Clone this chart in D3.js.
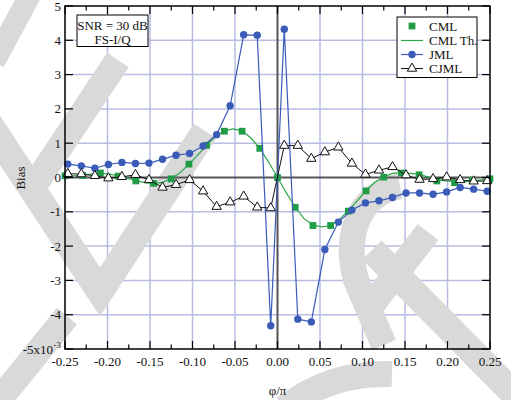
<!DOCTYPE html>
<html>
<head>
<meta charset="utf-8">
<script src="https://cdn.jsdelivr.net/npm/d3@7"></script>
<style>
  html, body { margin: 0; padding: 0; background: #fff; }
  svg { display: block; }
  text { font-family: "Liberation Serif", "DejaVu Serif", serif; fill: #111; }
</style>
</head>
<body>
<svg id="chart" width="511" height="400"></svg>
<script>
// ---------- data ----------
const xTicks = [-0.25, -0.20, -0.15, -0.10, -0.05, 0.00, 0.05, 0.10, 0.15, 0.20, 0.25];
const xTickLabels = ["-0.25", "-0.20", "-0.15", "-0.10", "-0.05", "0.00", "0.05", "0.10", "0.15", "0.20", "0.25"];
const yTicks = [-5, -4, -3, -2, -1, 0, 1, 2, 3, 4, 5];
const yTickLabels = ["-5x10", "-4", "-3", "-2", "-1", "0", "1", "2", "3", "4", "5"];

// JML / CJML sample positions: phi/pi at half-steps of 0.05 rad
const jmlX = d3.range(-16, 16).map(k => (k + 0.5) * 0.05 / Math.PI);
const jmlY = [0.39, 0.34, 0.27, 0.38, 0.44, 0.41, 0.42, 0.53, 0.65, 0.70, 0.92, 1.25, 2.09, 4.16, 4.15, -4.32,
              4.32, -4.13, -4.21, -2.10, -1.30, -0.95, -0.74, -0.68, -0.58, -0.45, -0.45, -0.49, -0.42, -0.29, -0.34, -0.40];
const cjmlY = [0.11, 0.10, 0.05, -0.02, 0.02, 0.08, -0.07, -0.29, -0.21, -0.07, -0.40, -0.85, -0.72, -0.55, -0.87, -0.89,
               0.93, 0.93, 0.55, 0.74, 0.88, 0.41, 0.09, 0.21, 0.31, 0.07, -0.06, -0.04, 0.01, -0.07, -0.11, -0.10];

// CML simulation points at k/48
const cmlX = d3.range(-12, 13).map(k => k / 48);
const cmlY = [0.05, 0.06, 0.13, 0.04, -0.10, -0.17, -0.04, 0.39, 0.94, 1.35, 1.35, 0.85, 0.00,
              -0.87, -1.40, -1.40, -0.98, -0.39, 0.01, 0.13, 0.08, -0.10, -0.15, -0.08, -0.04];

// CML theory curve at k/96
const thX = d3.range(-24, 25).map(k => k / 96);
const thY = [0.05, 0.05, 0.07, 0.10, 0.12, 0.10, 0.05, -0.02, -0.09, -0.15, -0.18, -0.14, -0.03, 0.14, 0.39, 0.66,
             0.94, 1.20, 1.36, 1.42, 1.36, 1.15, 0.85, 0.45, 0.00, -0.45, -0.86, -1.20, -1.38, -1.44, -1.40, -1.22,
             -0.97, -0.68, -0.38, -0.14, 0.02, 0.12, 0.14, 0.12, 0.09, 0.02, -0.06, -0.10, -0.12, -0.13, -0.10, -0.07, -0.03];

const legendItems = ["CML", "CML Th.", "JML", "CJML"];
const infoLines = ["SNR = 30 dB", "FS-I/Q"];

// ---------- layout ----------
const svg = d3.select("#chart");
const L = 65, R = 490, T = 6, B = 349;
const x = d3.scaleLinear().domain([-0.25, 0.25]).range([L, R]);
const y = d3.scaleLinear().domain([-5, 5]).range([B, T]);

const cGrid = "#b7bce2", cBlue = "#3a5bb8", cGreen = "#1f9c45", cGreenLine = "#2aa84a", cWM = "#d9d9d9";

// grid
const g = svg.append("g");
g.selectAll(".vg").data(xTicks.filter(t => t !== 0 && Math.abs(t) < 0.25)).join("line")
  .attr("x1", d => x(d)).attr("x2", d => x(d)).attr("y1", T).attr("y2", B)
  .attr("stroke", cGrid).attr("stroke-width", 1.5);
g.selectAll(".hg").data(yTicks.filter(t => t !== 0 && Math.abs(t) < 5)).join("line")
  .attr("y1", d => y(d)).attr("y2", d => y(d)).attr("x1", L).attr("x2", R)
  .attr("stroke", cGrid).attr("stroke-width", 1.5);

// watermark strokes (decoration)
const wm = svg.append("g").attr("fill", "none").attr("stroke", cWM).attr("stroke-linejoin", "miter").attr("stroke-linecap", "butt");
wm.append("path").attr("d", "M30,-5 L-6,62").attr("stroke-width", 22);
wm.append("path").attr("d", "M-22,107 L100,292 L205,131").attr("stroke-width", 27);
wm.append("path").attr("d", "M118,60 L30,192").attr("stroke-width", 26);
wm.append("path").attr("d", "M67,316 L-5,405").attr("stroke-width", 26);
wm.append("path").attr("d", "M400,186 C358,194 344,236 356,280 L384,345").attr("stroke-width", 26);
wm.append("path").attr("d", "M372,250 L525,405").attr("stroke-width", 27);
wm.append("path").attr("d", "M368,310 L428,232").attr("stroke-width", 26);
wm.append("path").attr("d", "M285,408 Q330,372 392,374").attr("stroke-width", 26);

// zero lines
svg.append("line").attr("x1", x(0)).attr("x2", x(0)).attr("y1", T).attr("y2", B)
  .attr("stroke", "#555").attr("stroke-width", 2);
svg.append("line").attr("x1", L).attr("x2", R).attr("y1", y(0)).attr("y2", y(0))
  .attr("stroke", "#555").attr("stroke-width", 2);

// ---------- series ----------
const lineGen = d3.line().x(d => x(d[0])).y(d => y(d[1]));
const jml = jmlX.map((v, i) => [v, jmlY[i]]);
const cjml = jmlX.map((v, i) => [v, cjmlY[i]]);
const cml = cmlX.map((v, i) => [v, cmlY[i]]);
const th = thX.map((v, i) => [v, thY[i]]);

const plot = svg.append("g");
plot.append("path").attr("d", lineGen(th)).attr("fill", "none").attr("stroke", cGreenLine).attr("stroke-width", 1.2);
plot.selectAll(".cml").data(cml).join("path")
  .attr("d", d3.symbol(d3.symbolSquare, 46)())
  .attr("transform", d => `translate(${x(d[0])},${y(d[1])})`)
  .attr("fill", cGreen);

plot.append("path").attr("d", lineGen(jml)).attr("fill", "none").attr("stroke", cBlue).attr("stroke-width", 1.2);
plot.selectAll(".jml").data(jml).join("circle")
  .attr("cx", d => x(d[0])).attr("cy", d => y(d[1])).attr("r", 3.7).attr("fill", cBlue);

plot.append("path").attr("d", lineGen(cjml)).attr("fill", "none").attr("stroke", "#111").attr("stroke-width", 1);
const tri = d3.symbol(d3.symbolTriangle, 38)();
plot.selectAll(".cjml").data(cjml).join("path")
  .attr("d", tri)
  .attr("transform", d => `translate(${x(d[0])},${y(d[1])})`)
  .attr("fill", "#fff").attr("stroke", "#111").attr("stroke-width", 1);

// ---------- frame & ticks ----------
svg.append("rect").attr("x", L).attr("y", T).attr("width", R - L).attr("height", B - T)
  .attr("fill", "none").attr("stroke", "#000").attr("stroke-width", 1.5);

const minorX = d3.range(-10, 11).map(k => k * 0.025);
const tk = svg.append("g").attr("stroke", "#000").attr("stroke-width", 1.2);
minorX.forEach(v => {
  const major = Math.abs(Math.round(v / 0.025)) % 2 === 0;
  const len = major ? 8 : 4.5;
  tk.append("line").attr("x1", x(v)).attr("x2", x(v)).attr("y1", B).attr("y2", B - len);
  tk.append("line").attr("x1", x(v)).attr("x2", x(v)).attr("y1", T).attr("y2", T + len);
});
yTicks.forEach(v => {
  tk.append("line").attr("x1", L).attr("x2", L + 8).attr("y1", y(v)).attr("y2", y(v));
  tk.append("line").attr("x1", R).attr("x2", R - 8).attr("y1", y(v)).attr("y2", y(v));
});

// tick labels
svg.selectAll(".xl").data(xTicks).join("text")
  .attr("x", d => x(d)).attr("y", 366).attr("text-anchor", "middle").attr("font-size", 13)
  .text((d, i) => xTickLabels[i]);
svg.selectAll(".yl").data(yTicks).join("text")
  .attr("x", d => d === -5 ? 53 : 61).attr("y", d => y(d) + 4.5).attr("text-anchor", "end").attr("font-size", 13)
  .text((d, i) => yTickLabels[i]);
svg.append("text").attr("x", 53.5).attr("y", y(-5) - 1.5).attr("font-size", 9).text("-3");

// axis titles
svg.append("text").attr("x", x(0)).attr("y", 395).attr("text-anchor", "middle").attr("font-size", 13).text("φ/π");
svg.append("text").attr("transform", "translate(25,178) rotate(-90)").attr("text-anchor", "middle")
  .attr("font-size", 13).text("Bias");

// info box
svg.append("rect").attr("x", 77).attr("y", 15).attr("width", 71).attr("height", 31.5)
  .attr("fill", "#fff").attr("stroke", "#000").attr("stroke-width", 1);
infoLines.forEach((t, i) => {
  svg.append("text").attr("x", 112.5).attr("y", 29.5 + i * 14).attr("text-anchor", "middle")
    .attr("font-size", 13).text(t);
});

// legend
const lg = svg.append("g");
lg.append("rect").attr("x", 397).attr("y", 17).attr("width", 80).attr("height", 60.5)
  .attr("fill", "#fff").attr("stroke", "#000").attr("stroke-width", 1);
const rowY = [26, 40.5, 54.5, 68.5];
const lx1 = 401, lx2 = 423, lmx = 412;
legendItems.forEach((name, i) => {
  const yy = rowY[i];
  if (i === 0) {
    lg.append("path").attr("d", d3.symbol(d3.symbolSquare, 46)()).attr("transform", `translate(${lmx},${yy})`).attr("fill", cGreen);
  } else if (i === 1) {
    lg.append("line").attr("x1", lx1).attr("x2", lx2).attr("y1", yy).attr("y2", yy).attr("stroke", cGreenLine).attr("stroke-width", 1.2);
  } else if (i === 2) {
    lg.append("line").attr("x1", lx1).attr("x2", lx2).attr("y1", yy).attr("y2", yy).attr("stroke", cBlue).attr("stroke-width", 1.2);
    lg.append("circle").attr("cx", lmx).attr("cy", yy).attr("r", 3.7).attr("fill", cBlue);
  } else {
    lg.append("line").attr("x1", lx1).attr("x2", lx2).attr("y1", yy).attr("y2", yy).attr("stroke", "#111").attr("stroke-width", 1);
    lg.append("path").attr("d", tri).attr("transform", `translate(${lmx},${yy})`).attr("fill", "#fff").attr("stroke", "#111");
  }
  lg.append("text").attr("x", 429).attr("y", yy + 4.5).attr("font-size", 13).text(name);
});
</script>
</body>
</html>
